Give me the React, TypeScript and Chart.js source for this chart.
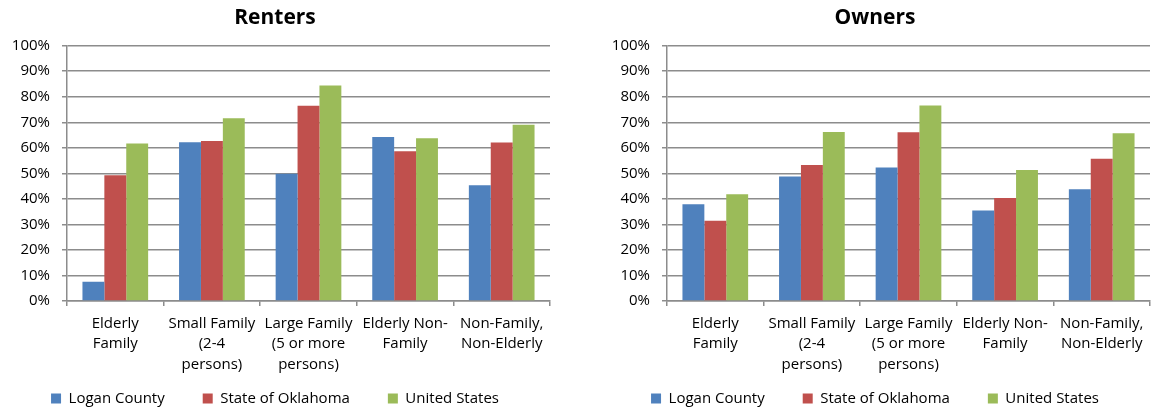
import React, { useEffect, useRef } from "react";
import { Chart, registerables } from "chart.js";

Chart.register(...registerables);

const categories: string[][] = [
  ["Elderly", "Family"],
  ["Small Family", "(2-4", "persons)"],
  ["Large Family", "(5 or more", "persons)"],
  ["Elderly Non-", "Family"],
  ["Non-Family,", "Non-Elderly"],
];

const seriesNames = ["Logan County", "State of Oklahoma", "United States"];
const seriesColors = ["#4F81BD", "#C0504D", "#9BBB59"];

const rentersLogan = [7.5, 62.2, 49.8, 64.2, 45.3];
const rentersOklahoma = [49.3, 62.7, 76.5, 58.7, 62.1];
const rentersUS = [61.7, 71.6, 84.4, 63.7, 69.0];

const ownersLogan = [37.9, 48.8, 52.3, 35.4, 43.8];
const ownersOklahoma = [31.4, 53.3, 66.1, 40.3, 55.7];
const ownersUS = [41.8, 66.2, 76.6, 51.3, 65.7];

const yTicks = [0, 10, 20, 30, 40, 50, 60, 70, 80, 90, 100];

const FONT = "'Open Sans', 'Noto Sans', sans-serif";

function BarPanel(props: { title: string; series: number[][]; left: number }) {
  const ref = useRef<HTMLCanvasElement | null>(null);
  useEffect(() => {
    if (!ref.current) return;
    const chart = new Chart(ref.current, {
      type: "bar",
      data: {
        labels: categories,
        datasets: props.series.map((vals, i) => ({
          label: seriesNames[i],
          data: vals,
          backgroundColor: seriesColors[i],
          borderWidth: 0,
          categoryPercentage: 0.68,
          barPercentage: 1,
        })),
      },
      options: {
        animation: false,
        responsive: false,
        maintainAspectRatio: false,
        layout: { padding: { left: 0, right: 2, top: 0, bottom: 0 } },
        plugins: {
          title: {
            display: true,
            text: props.title,
            color: "#000",
            font: { family: FONT, size: 21, weight: "bold", lineHeight: 1.2 },
            padding: { top: 5, bottom: 15.5 },
          },
          legend: {
            display: true,
            position: "bottom",
            labels: {
              color: "#000",
              font: { family: FONT, size: 15 },
              boxWidth: 10,
              boxHeight: 10,
              padding: 38,
            },
          },
          tooltip: { enabled: false },
        },
        scales: {
          x: {
            afterFit: (s: any) => {
              s.height = 52;
              s._computeLabelArea = () => undefined;
            },
            grid: {
              display: true,
              drawOnChartArea: false,
              drawTicks: true,
              tickLength: 5,
              color: "#8c8c8c",
              lineWidth: 1.5,
              offset: true,
            },
            border: { display: true, color: "#8c8c8c", width: 1.5 },
            ticks: {
              color: "#000",
              font: { family: FONT, size: 15, lineHeight: 1.38 },
              padding: 7,
              maxRotation: 0,
              autoSkip: false,
            },
          },
          y: {
            min: 0,
            max: 100,
            afterFit: (s: any) => {
              s.width = 67;
            },
            afterBuildTicks: (s: any) => {
              s.ticks = yTicks.map((v) => ({ value: v }));
            },
            grid: {
              color: "#8c8c8c",
              lineWidth: 1.5,
              tickLength: 5,
            },
            border: { display: true, color: "#8c8c8c", width: 1.5 },
            ticks: {
              color: "#000",
              font: { family: FONT, size: 15 },
              padding: 12,
              callback: (v: any) => v + "%",
            },
          },
        },
      },
    });
    return () => chart.destroy();
  }, []);
  return (
    <div
      style={{
        position: "absolute",
        left: props.left,
        top: 0,
        width: 552,
        height: 412,
        overflow: "hidden",
      }}
    >
      <canvas ref={ref} width={552} height={416} style={{ display: "block" }} />
    </div>
  );
}

export default function App() {
  return (
    <div
      style={{
        position: "fixed",
        left: 0,
        top: 0,
        width: 1154,
        height: 412,
        overflow: "hidden",
        background: "#fff",
      }}
    >
      <BarPanel title="Renters" series={[rentersLogan, rentersOklahoma, rentersUS]} left={0} />
      <BarPanel title="Owners" series={[ownersLogan, ownersOklahoma, ownersUS]} left={600} />
    </div>
  );
}
